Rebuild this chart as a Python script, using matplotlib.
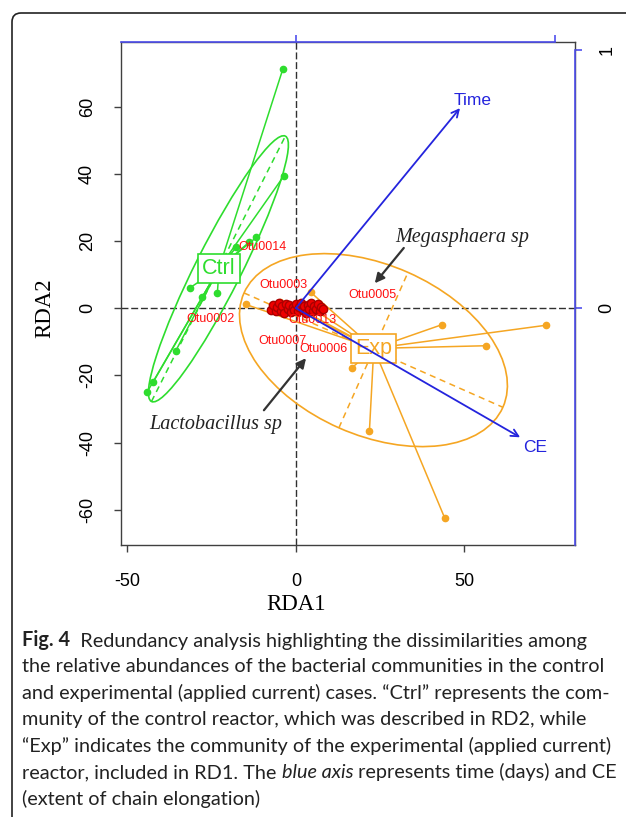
import numpy as np
import matplotlib
matplotlib.use("Agg")
import matplotlib.pyplot as plt
from matplotlib.patches import Ellipse, FancyBboxPatch
from matplotlib.transforms import IdentityTransform

plt.rcParams["font.family"] = ["Liberation Sans", "DejaVu Sans"]
plt.rcParams["axes.unicode_minus"] = False

# site scores (RDA1, RDA2)
ctrl_x = [-3.9, -3.6, -11.7, -13.9, -17.7, -31.5, -23.3, -27.8, -35.7, -42.3, -44.1]
ctrl_y = [71.1, 39.3, 21.1, 19.6, 18.1, 6.0, 4.6, 3.2, -12.8, -21.9, -24.9]
exp_x = [43.4, 74.2, 56.3, 16.7, 21.8, 44.2, 4.4, 4.5, -14.9, -4.7, 1.5]
exp_y = [-4.9, -5.1, -11.2, -17.7, -36.7, -62.6, 4.7, 0.1, 1.1, 1.9, -0.5]

# group centroids and dispersion ellipses (cx, cy, semi-major, semi-minor, angle)
ctrl_centroid = (-22.8, 11.9)
exp_centroid = (23.1, -12.0)
ctrl_ellipse = (-23.0, 11.7, 44.2, 6.8, 63.3)
exp_ellipse = (23.0, -12.5, 42.0, 25.3, -23.9)

# species (OTU) scores - the red cloud near the origin
otu_x = [-7.5, -6.8, -6.0, -5.5, -5.0, -4.5, -4.0, -3.5, -3.0, -2.5, -2.0, -1.5, -1.0,
         -0.5, 0.0, 0.5, 1.0, 1.5, 2.0, 2.5, 3.0, 3.5, 4.0, 4.5, 5.0, 5.5, 6.0, 6.5, 7.0, 7.5, 8.0]
otu_y = [-0.5, 0.8, -1.0, 0.3, 1.5, -0.8, 0.5, -1.5, 1.2, -0.3, 0.9, -1.2, 0.4,
         -0.6, 1.3, -1.0, 0.2, 1.5, -0.7, 0.6, -1.4, 1.0, -0.2, 1.6, -0.9, 0.5, -0.4, 1.1, -1.0, 0.3, -0.3]
otu_names = ["Otu0014", "Otu0003", "Otu0005", "Otu0002", "Otu0013", "Otu0007", "Otu0006"]
otu_lx = [-9.8, -3.6, 22.8, -25.2, 5.0, -3.9, 8.3]
otu_ly = [18.2, 6.8, 3.9, -3.3, -3.6, -9.8, -12.2]

# biplot arrows for the constraining variables
env_names = ["Time", "CE"]
env_x = [0.633, 0.865]
env_y = [0.774, -0.500]
env_lx = [52.5, 71.0]
env_ly = [61.8, -41.5]
arrow_mult = 76.9

green = "#2EDD2E"
orange = "#F5A623"
blue = "#2424DD"
axblue = "#5050EE"
grey = "#404040"

fig = plt.figure(figsize=(6.26, 8.17), dpi=100)
W, H = 626, 817


def fx(x):
    return x / W


def fy(y):
    return 1 - y / H


ax = fig.add_axes([fx(121), fy(545), fx(575) - fx(121), fy(42) - fy(545)])
xmin, xmax = -51.9, 82.8
ymin, ymax = -70.5, 79.2
ax.set_xlim(xmin, xmax)
ax.set_ylim(ymin, ymax)

ax.axhline(0, color="#303030", lw=1.0, ls=(0, (5, 2)), zorder=1)
ax.axvline(0, color="#303030", lw=1.0, ls=(0, (5, 2)), zorder=1)


def draw_group(xs, ys, cen, ell, col):
    cx, cy, a, b, ang = ell
    e = Ellipse((cx, cy), 2 * a, 2 * b, angle=ang, fill=False, ec=col, lw=1.2, zorder=2)
    ax.add_patch(e)
    t = np.deg2rad(ang)
    ax.plot([cx - a * np.cos(t), cx + a * np.cos(t)], [cy - a * np.sin(t), cy + a * np.sin(t)],
            color=col, lw=1.1, ls=(0, (4, 3)), zorder=2)
    ax.plot([cx + b * np.sin(t), cx - b * np.sin(t)], [cy - b * np.cos(t), cy + b * np.cos(t)],
            color=col, lw=1.1, ls=(0, (4, 3)), zorder=2)
    for x, y in zip(xs, ys):
        ax.plot([cen[0], x], [cen[1], y], color=col, lw=1.1, zorder=2)
    ax.plot(xs, ys, "o", color=col, ms=4.5, zorder=3)


draw_group(ctrl_x, ctrl_y, ctrl_centroid, ctrl_ellipse, green)
draw_group(exp_x, exp_y, exp_centroid, exp_ellipse, orange)

ax.plot(otu_x, otu_y, "o", color="#EE0000", mec="#AA0000", ms=6, zorder=4)
for n, x, y in zip(otu_names, otu_lx, otu_ly):
    ax.text(x, y, n, color="#FF1010", fontsize=9, ha="center", va="center", zorder=5)

ax.text(ctrl_centroid[0], ctrl_centroid[1], "Ctrl", color=green, fontsize=15.5,
        ha="center", va="center", zorder=5,
        bbox=dict(boxstyle="square,pad=0.18", fc="white", ec=green, lw=1.2))
ax.text(exp_centroid[0], exp_centroid[1], "Exp", color=orange, fontsize=15.5,
        ha="center", va="center", zorder=5,
        bbox=dict(boxstyle="square,pad=0.18", fc="white", ec=orange, lw=1.2))

for n, x, y, lx, ly in zip(env_names, env_x, env_y, env_lx, env_ly):
    ax.annotate("", xy=(x * arrow_mult, y * arrow_mult), xytext=(0, 0),
                arrowprops=dict(arrowstyle="->", color=blue, lw=1.3, mutation_scale=13,
                                shrinkA=0, shrinkB=0), zorder=6)
    ax.text(lx, ly, n, color=blue, fontsize=12.5, ha="center", va="center", zorder=6)

# taxon call-outs
ax.annotate("", xy=(23.4, 7.4), xytext=(32.0, 17.9),
            arrowprops=dict(arrowstyle="-|>", color="#333333", lw=1.6, mutation_scale=14,
                            shrinkA=0, shrinkB=0), zorder=7)
ax.annotate("", xy=(3.0, -14.9), xytext=(-9.5, -30.4),
            arrowprops=dict(arrowstyle="-|>", color="#333333", lw=1.6, mutation_scale=14,
                            shrinkA=0, shrinkB=0), zorder=7)
ax.text(49.3, 21.1, "Megasphaera sp", fontsize=14.5, style="italic",
        family="Liberation Serif", color="#222222", ha="center", va="center", zorder=7)
ax.text(-23.7, -34.5, "Lactobacillus sp", fontsize=14.5, style="italic",
        family="Liberation Serif", color="#222222", ha="center", va="center", zorder=7)

# primary axes
for s in ax.spines.values():
    s.set_color(grey)
    s.set_linewidth(1.0)
ax.set_xticks([-50, 0, 50])
ax.set_yticks([-60, -40, -20, 0, 20, 40, 60])
ax.tick_params(direction="out", length=5, width=1, color=grey, labelsize=13, pad=15)
ax.tick_params(axis="y", labelrotation=90, pad=13)
for lab in ax.get_yticklabels():
    lab.set_va("center")

# blue axes for the biplot scale
ax.plot([xmin, arrow_mult], [ymax, ymax], color=axblue, lw=1.2, clip_on=False, zorder=8)
ax.plot([xmax, xmax], [ymin, arrow_mult], color=axblue, lw=1.2, clip_on=False, zorder=8)
secx = ax.secondary_xaxis("top", functions=(lambda v: v / arrow_mult, lambda v: v * arrow_mult))
secx.set_xticks([0, 1])
secx.set_xticklabels([])
secx.tick_params(direction="out", length=5, width=1.2, color=axblue)
secx.spines["top"].set_visible(False)
secy = ax.secondary_yaxis("right", functions=(lambda v: v / arrow_mult, lambda v: v * arrow_mult))
secy.set_yticks([0, 1])
secy.set_yticklabels(["0", "1"], fontsize=13, rotation=90, va="center")
secy.tick_params(direction="out", length=5, width=1.2, color=axblue, pad=12)
secy.spines["right"].set_visible(False)

fig.text(fx(296), fy(604), "RDA1", fontsize=16.5, family="Liberation Serif", ha="center", va="center")
fig.text(fx(45), fy(308), "RDA2", fontsize=16.5, family="Liberation Serif", ha="center", va="center",
         rotation=90)

# rounded frame around figure + caption
frame = FancyBboxPatch((12, -60), 700, H - 13 + 60, boxstyle="round,pad=0,rounding_size=9",
                       fc="none", ec="#222222", lw=1.2, transform=IdentityTransform())
fig.add_artist(frame)

cap_font = "Lato"
cap_size = 14.3
cap_lines = [
    [("Fig. 4", "bold", "normal"), ("  Redundancy analysis highlighting the dissimilarities among", "normal", "normal")],
    [("the relative abundances of the bacterial communities in the control", "normal", "normal")],
    [("and experimental (applied current) cases. \u201cCtrl\u201d represents the com-", "normal", "normal")],
    [("munity of the control reactor, which was described in RD2, while", "normal", "normal")],
    [("\u201cExp\u201d indicates the community of the experimental (applied current)", "normal", "normal")],
    [("reactor, included in RD1. The ", "normal", "normal"), ("blue axis", "normal", "italic"),
     (" represents time (days) and CE", "normal", "normal")],
    [("(extent of chain elongation)", "normal", "normal")],
]
for i, parts in enumerate(cap_lines):
    y = 640 + i * 26.5
    prev = None
    for txt, wt, st in parts:
        if prev is None:
            prev = ax.annotate(txt, xy=(fx(22), fy(y)), xycoords="figure fraction",
                               ha="left", va="center", fontsize=cap_size, family=cap_font,
                               weight=wt, style=st, color="#222222", annotation_clip=False)
        else:
            prev = ax.annotate(txt, xy=(1, 0), xycoords=prev, ha="left", va="bottom",
                               fontsize=cap_size, family=cap_font, weight=wt, style=st,
                               color="#222222", annotation_clip=False)

fig.savefig("out.png", dpi=100)
